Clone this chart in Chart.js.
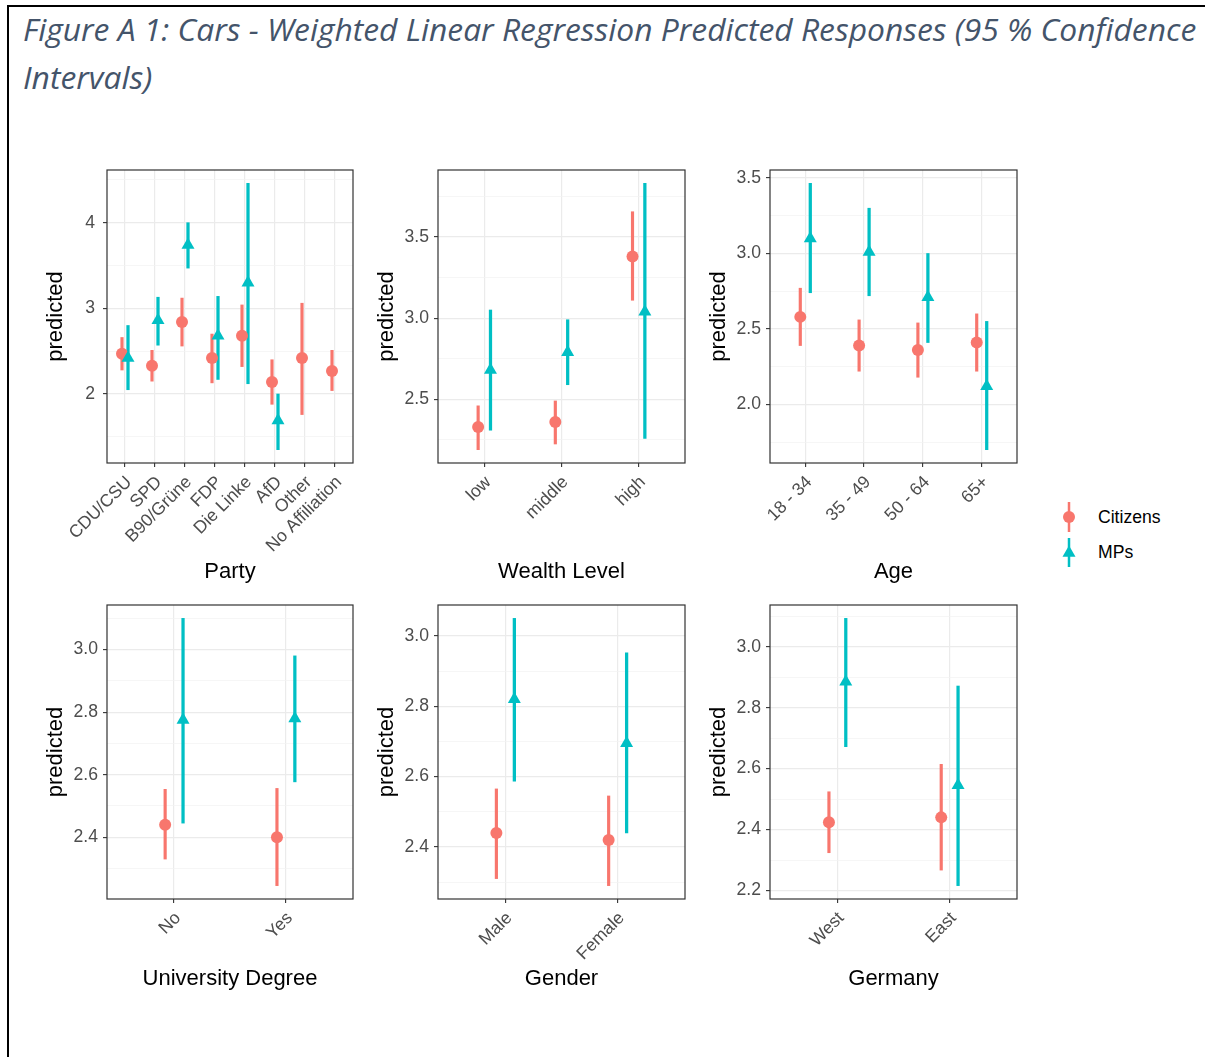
<!DOCTYPE html>
<html>
<head>
<meta charset="utf-8">
<script src="https://cdn.jsdelivr.net/npm/chart.js@4.4.1/dist/chart.umd.min.js"></script>
<style>
  body { margin: 0; background: #fff; width: 1205px; height: 1057px; overflow: hidden; position: relative; }
  #frame { position: absolute; left: 7px; top: 5px; width: 1198px; height: 1052px; border-left: 2px solid #000; border-top: 2px solid #000; }
  #caption { position: absolute; left: 23px; top: 5px; white-space: nowrap; font: italic 31.8px/48px 'Open Sans', sans-serif; color: #44546A; }
  canvas { position: absolute; }
  #legend { position: absolute; left: 1055px; top: 498px; width: 150px; height: 75px; }
  #legend span { position: absolute; left: 43px; font: 17.6px 'Liberation Sans', Arial, sans-serif; color: #000; line-height: 20px; }
</style>
</head>
<body>
<div id="frame"></div>
<div id="caption">Figure A 1: Cars - Weighted Linear Regression Predicted Responses (95 % Confidence<br>Intervals)</div>

<canvas id="party"></canvas>
<canvas id="wealth"></canvas>
<canvas id="age"></canvas>
<canvas id="degree"></canvas>
<canvas id="gender"></canvas>
<canvas id="region"></canvas>

<div id="legend">
  <svg width="40" height="75" style="position:absolute;left:0;top:0">
    <line x1="14" y1="4" x2="14" y2="34" stroke="#F8766D" stroke-width="2.5"/>
    <circle cx="14" cy="19" r="6" fill="#F8766D"/>
    <line x1="14" y1="40" x2="14" y2="69" stroke="#00BFC4" stroke-width="2.5"/>
    <polygon points="14,47.5 20.5,58.75 7.5,58.75" fill="#00BFC4"/>
  </svg>
  <span style="top:9px">Citizens</span>
  <span style="top:44px">MPs</span>
</div>

<script>
const RED = '#F8766D';
const CYAN = '#00BFC4';

// each row: [estimate, lower 95% bound, upper 95% bound]
const partyLabels = ['CDU/CSU', 'SPD', 'B90/Grüne', 'FDP', 'Die Linke', 'AfD', 'Other', 'No Affiliation'];
const partyCitizens = [[2.47, 2.28, 2.66], [2.33, 2.15, 2.51], [2.84, 2.56, 3.12], [2.42, 2.13, 2.70],
                       [2.68, 2.32, 3.04], [2.14, 1.88, 2.40], [2.42, 1.76, 3.06], [2.27, 2.04, 2.51]];
const partyMPs = [[2.42, 2.05, 2.80], [2.86, 2.57, 3.13], [3.74, 3.47, 4.00], [2.68, 2.17, 3.14],
                  [3.30, 2.12, 4.46], [1.69, 1.35, 2.00], null, null];
const partyTicks = ['2', '3', '4'];

const wealthLabels = ['low', 'middle', 'high'];
const wealthCitizens = [[2.33, 2.19, 2.46], [2.36, 2.225, 2.49], [3.38, 3.11, 3.655]];
const wealthMPs = [[2.68, 2.31, 3.05], [2.79, 2.59, 2.99], [3.04, 2.26, 3.83]];
const wealthTicks = ['2.5', '3.0', '3.5'];

const ageLabels = ['18 - 34', '35 - 49', '50 - 64', '65+'];
const ageCitizens = [[2.58, 2.39, 2.77], [2.39, 2.22, 2.56], [2.36, 2.18, 2.54], [2.41, 2.22, 2.60]];
const ageMPs = [[3.10, 2.74, 3.465], [3.01, 2.72, 3.30], [2.71, 2.41, 3.00], [2.12, 1.70, 2.55]];
const ageTicks = ['2.0', '2.5', '3.0', '3.5'];

const degreeLabels = ['No', 'Yes'];
const degreeCitizens = [[2.44, 2.33, 2.553], [2.40, 2.245, 2.556]];
const degreeMPs = [[2.775, 2.445, 3.10], [2.78, 2.577, 2.98]];
const degreeTicks = ['2.4', '2.6', '2.8', '3.0'];

const genderLabels = ['Male', 'Female'];
const genderCitizens = [[2.44, 2.31, 2.565], [2.42, 2.29, 2.545]];
const genderMPs = [[2.82, 2.587, 3.05], [2.695, 2.44, 2.952]];
const genderTicks = ['2.4', '2.6', '2.8', '3.0'];

const regionLabels = ['West', 'East'];
const regionCitizens = [[2.424, 2.324, 2.524], [2.44, 2.267, 2.614]];
const regionMPs = [[2.885, 2.672, 3.093], [2.545, 2.216, 2.871]];
const regionTicks = ['2.2', '2.4', '2.6', '2.8', '3.0'];

Chart.defaults.font.family = "'Liberation Sans', Arial, sans-serif";

// outline of the plotting panel, drawn over the points like theme_bw
const panelBorder = {
  id: 'panelBorder',
  afterDatasetsDraw(chart) {
    const { ctx, chartArea: a } = chart;
    ctx.save();
    ctx.strokeStyle = '#333333';
    ctx.lineWidth = 1.2;
    ctx.strokeRect(a.left, a.top, a.right - a.left, a.bottom - a.top);
    ctx.restore();
  }
};

const AXIS_W = 65, PAD_TOP = 10, PAD_RIGHT = 15;

function makePanel(id, area, xTitle, labels, citizens, mps, ticks, dodge, tickPad) {
  const rows = citizens.concat(mps).filter(Boolean);
  const lo = Math.min(...rows.map(r => r[1]));
  const hi = Math.max(...rows.map(r => r[2]));
  const yMin = lo - (hi - lo) * 0.05, yMax = hi + (hi - lo) * 0.05;

  const majors = ticks.map(t => ({ value: parseFloat(t), major: true, text: t }));
  const step = majors[1].value - majors[0].value;
  const yTicks = majors.slice();
  for (let v = majors[0].value - step / 2; v <= yMax; v += step) {
    if (v >= yMin) yTicks.push({ value: v, major: false, text: '' });
  }
  yTicks.sort((a, b) => a.value - b.value);

  const canvas = document.getElementById(id);
  canvas.width = (area.right - area.left) + AXIS_W + PAD_RIGHT;
  canvas.height = (area.bottom - area.top) + PAD_TOP + area.xh;
  canvas.style.left = (area.left - AXIS_W) + 'px';
  canvas.style.top = (area.top - PAD_TOP) + 'px';

  const ranges = (list, off) => list.map((r, i) => r && { x: i + 1 + off, y: [r[1], r[2]] }).filter(Boolean);
  const points = (list, off) => list.map((r, i) => r && { x: i + 1 + off, y: r[0] }).filter(Boolean);
  const isMajor = c => c.tick && c.tick.major;

  new Chart(canvas, {
    type: 'scatter',
    data: {
      datasets: [
        { type: 'bar', label: 'Citizens', data: ranges(citizens, -dodge), backgroundColor: RED,
          barThickness: 2.5, grouped: false, borderWidth: 0, order: 4 },
        { type: 'bar', label: 'MPs', data: ranges(mps, dodge), backgroundColor: CYAN,
          barThickness: 2.6, grouped: false, borderWidth: 0, order: 3 },
        { label: 'Citizens', data: points(citizens, -dodge), pointStyle: 'circle', pointRadius: 6,
          backgroundColor: RED, borderWidth: 0, order: 2 },
        { label: 'MPs', data: points(mps, dodge), pointStyle: 'triangle', pointRadius: 7.5,
          backgroundColor: CYAN, borderWidth: 0, order: 1 }
      ]
    },
    options: {
      responsive: false,
      animation: false,
      events: [],
      layout: { padding: { top: PAD_TOP, right: PAD_RIGHT, left: 0, bottom: 0 } },
      plugins: { legend: { display: false }, tooltip: { enabled: false } },
      scales: {
        x: {
          type: 'linear', offset: false, min: 0.4, max: labels.length + 0.6,
          afterBuildTicks: s => { s.ticks = labels.map((_, i) => ({ value: i + 1 })); },
          afterFit: s => { s.height = area.xh; s.paddingLeft = 0; s.paddingRight = 0; },
          ticks: { autoSkip: false, minRotation: 45, maxRotation: 45, padding: 5, labelOffset: 4,
                   color: '#4D4D4D', font: { size: 17.6 }, callback: (v, i) => labels[i] },
          grid: { offset: false, color: '#EBEBEB', lineWidth: 1.2, tickLength: 4,
                  tickColor: '#333333', tickWidth: 1.1 },
          border: { display: false },
          title: { display: true, text: xTitle, color: '#000', font: { size: 22 }, padding: 0 }
        },
        y: {
          type: 'linear', min: yMin, max: yMax,
          afterBuildTicks: s => { s.ticks = yTicks.map(t => Object.assign({}, t)); },
          afterFit: s => { s.width = AXIS_W; s.paddingTop = 0; s.paddingBottom = 0; },
          ticks: { autoSkip: false, padding: tickPad, color: '#4D4D4D', font: { size: 17.6 },
                   callback: (v, i, t) => t[i].text },
          grid: {
            color: c => isMajor(c) ? '#EBEBEB' : '#F2F2F2',
            lineWidth: c => isMajor(c) ? 1.2 : 0.7,
            tickLength: 4,
            tickColor: c => isMajor(c) ? '#333333' : 'rgba(0,0,0,0)',
            tickWidth: 1.1
          },
          border: { display: false },
          title: { display: true, text: 'predicted', color: '#000', font: { size: 22 }, padding: { top: 1, bottom: 0 } }
        }
      }
    },
    plugins: [panelBorder]
  });
}

const TOP_ROW = { top: 170, bottom: 463, xh: 122 };
const BOTTOM_ROW = { top: 605, bottom: 899, xh: 93 };
const COLS = [{ left: 107, right: 353 }, { left: 438, right: 685 }, { left: 770, right: 1017 }];

makePanel('party', Object.assign({}, TOP_ROW, COLS[0]), 'Party', partyLabels, partyCitizens, partyMPs, partyTicks, 0.1, 8);
makePanel('wealth', Object.assign({}, TOP_ROW, COLS[1]), 'Wealth Level', wealthLabels, wealthCitizens, wealthMPs, wealthTicks, 0.08, 5);
makePanel('age', Object.assign({}, TOP_ROW, COLS[2]), 'Age', ageLabels, ageCitizens, ageMPs, ageTicks, 0.085, 5);
makePanel('degree', Object.assign({}, BOTTOM_ROW, COLS[0]), 'University Degree', degreeLabels, degreeCitizens, degreeMPs, degreeTicks, 0.08, 5);
makePanel('gender', Object.assign({}, BOTTOM_ROW, COLS[1]), 'Gender', genderLabels, genderCitizens, genderMPs, genderTicks, 0.08, 5);
makePanel('region', Object.assign({}, BOTTOM_ROW, COLS[2]), 'Germany', regionLabels, regionCitizens, regionMPs, regionTicks, 0.075, 5);
</script>
</body>
</html>
